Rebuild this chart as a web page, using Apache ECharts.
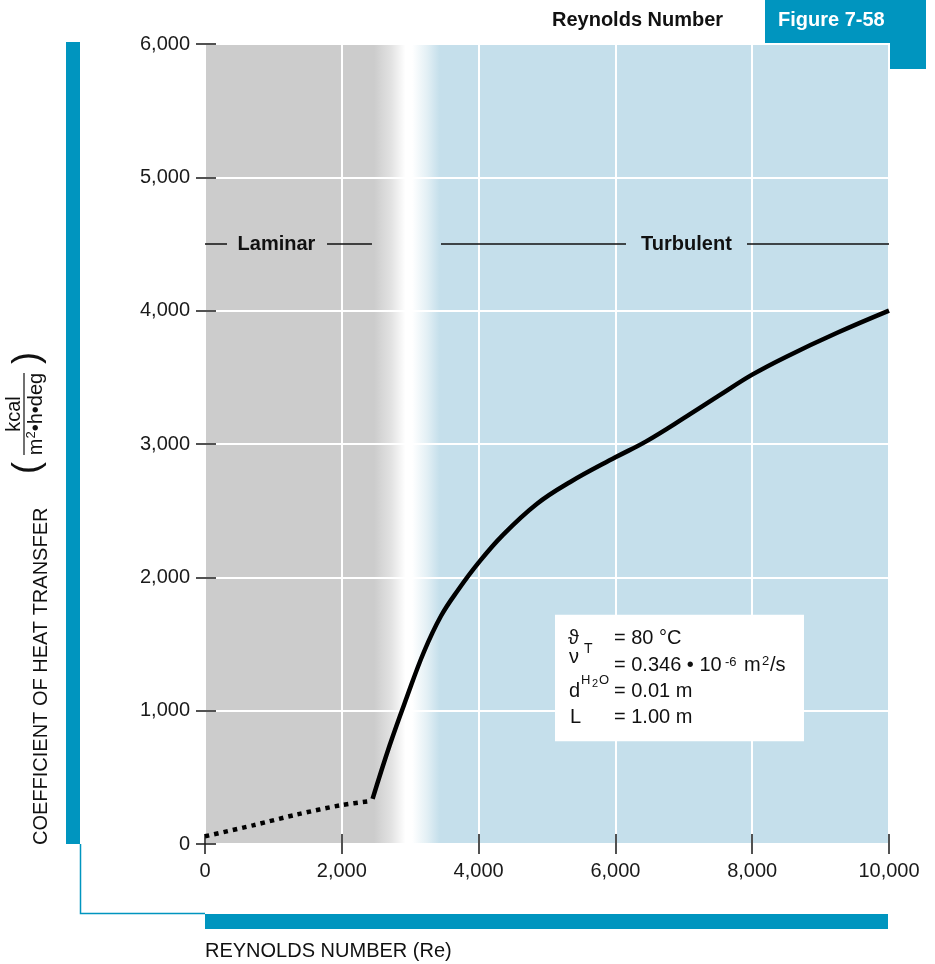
<!DOCTYPE html>
<html>
<head>
<meta charset="utf-8">
<script src="https://cdn.jsdelivr.net/npm/echarts@6/dist/echarts.min.js"></script>
<style>
  html, body { margin: 0; padding: 0; background: #fff; }
  #chart { width: 935px; height: 964px; }
</style>
</head>
<body>
<div id="chart"></div>
<script>
// values
const xTicks = [0, 2000, 4000, 6000, 8000, 10000];
const yTicks = [0, 1000, 2000, 3000, 4000, 5000, 6000];

// laminar part (dotted)
const laminarRe = [0, 700, 1350, 2000, 2420];
const laminarH = [58, 140, 222, 292, 322];

// turbulent part (solid)
const turbRe = [2450, 2700, 2950, 3200, 3450, 3700, 4000, 4350, 4850, 5340, 6000, 6450, 7040, 7530, 8000, 8500, 9235, 10000];
const turbH = [338, 740, 1100, 1440, 1710, 1905, 2110, 2315, 2550, 2715, 2900, 3020, 3207, 3368, 3520, 3655, 3832, 4000];

// region labels
const regionLevel = 4500;
const laminarSegs = [[0, 322], [1784, 2441]];
const turbSegs = [[3450, 6155], [7924, 10000]];
const regionLabels = [
  { name: "Laminar", re: 1045 },
  { name: "Turbulent", re: 7039 }
];

// box with the test conditions
const boxRe = [5117, 8757];
const boxH = [770, 1720];

const FONT = "'Liberation Sans', Arial, sans-serif";
const TEAL = "#0095bf";
const GREY = "#cccccc";
const BLUE = "#c5dfeb";

const toPairs = (xs, ys) => xs.map((x, i) => [x, ys[i]]);
const fmt = (v) => v.toLocaleString("en-US");

const chart = echarts.init(document.getElementById("chart"));

const tickStyle = { color: "#1a1a1a", width: 1.5 };

const baseX = { type: "value", min: 0, max: 10000, interval: 2000, axisLine: { show: false } };
const baseY = { type: "value", min: 0, max: 6000, interval: 1000, axisLine: { show: false } };

const segLines = laminarSegs.concat(turbSegs).map(([a, b]) => [
  { coord: [a, regionLevel] },
  { coord: [b, regionLevel] }
]);

// text placed by its baseline
const txt = (x, base, text, size, extra) => ({
  type: "text",
  z: 100,
  x,
  y: base - 0.36 * size,
  style: Object.assign(
    { text, fontSize: size, fontFamily: FONT, fill: "#111", verticalAlign: "middle", align: "left" },
    extra || {}
  )
});

const rtxt = (u, v, text, size, extra) => ({
  type: "text",
  x: u,
  y: v,
  style: Object.assign(
    { text, fontSize: size, fontFamily: FONT, fill: "#111", align: "center", verticalAlign: "middle" },
    extra || {}
  )
});

chart.setOption({
  animation: false,
  grid: {
    left: 205,
    top: 44,
    width: 684,
    height: 800,
    show: true,
    borderWidth: 0,
    backgroundColor: new echarts.graphic.LinearGradient(0, 0, 1, 0, [
      { offset: 0, color: GREY },
      { offset: 0.247, color: GREY },
      { offset: 0.272, color: "#e2e2e2" },
      { offset: 0.293, color: "#ffffff" },
      { offset: 0.303, color: "#ffffff" },
      { offset: 0.324, color: "#e4f0f5" },
      { offset: 0.343, color: BLUE },
      { offset: 1, color: BLUE }
    ])
  },
  xAxis: [
    Object.assign({}, baseX, {
      axisTick: { show: true, inside: false, length: 10, lineStyle: tickStyle },
      splitLine: { show: true, lineStyle: { color: "#ffffff", width: 2 } },
      axisLabel: { margin: 17, color: "#1a1a1a", fontFamily: FONT, fontSize: 20, formatter: fmt }
    }),
    Object.assign({}, baseX, {
      position: "bottom",
      axisTick: { show: true, inside: true, length: 10, lineStyle: tickStyle },
      splitLine: { show: false },
      axisLabel: { show: false }
    })
  ],
  yAxis: [
    Object.assign({}, baseY, {
      axisTick: { show: true, inside: false, length: 9, lineStyle: tickStyle },
      splitLine: { show: true, lineStyle: { color: "#ffffff", width: 2 } },
      axisLabel: { margin: 15, color: "#1a1a1a", fontFamily: FONT, fontSize: 20, formatter: fmt }
    }),
    Object.assign({}, baseY, {
      position: "left",
      axisTick: { show: true, inside: true, length: 11, lineStyle: tickStyle },
      splitLine: { show: false },
      axisLabel: { show: false }
    })
  ],
  series: [
    {
      name: "laminar",
      type: "line",
      data: toPairs(laminarRe, laminarH),
      showSymbol: false,
      smooth: 0.3,
      lineStyle: { color: "#000", width: 4.5, type: [4.5, 5], cap: "butt" },
      markLine: {
        silent: true,
        symbol: "none",
        label: { show: false },
        lineStyle: { color: "#111", width: 1.5, type: "solid" },
        data: segLines
      },
      markPoint: {
        silent: true,
        symbol: "rect",
        symbolSize: 1,
        itemStyle: { color: "rgba(0,0,0,0)" },
        label: {
          show: true,
          position: "inside",
          color: "#111",
          fontFamily: FONT,
          fontWeight: "bold",
          fontSize: 20,
          formatter: (p) => p.name
        },
        data: regionLabels.map((r) => ({ name: r.name, coord: [r.re, regionLevel] }))
      }
    },
    {
      name: "turbulent",
      type: "line",
      data: toPairs(turbRe, turbH),
      showSymbol: false,
      smooth: 0.4,
      lineStyle: { color: "#000", width: 4.5 },
      markArea: {
        silent: true,
        itemStyle: { color: "#ffffff" },
        data: [[{ coord: [boxRe[0], boxH[1]] }, { coord: [boxRe[1], boxH[0]] }]]
      }
    }
  ],
  graphic: [
    // decorative frame
    { type: "rect", shape: { x: 66, y: 42, width: 14, height: 802 }, style: { fill: TEAL } },
    { type: "rect", shape: { x: 205, y: 914, width: 683, height: 15 }, style: { fill: TEAL } },
    {
      type: "polyline",
      shape: { points: [[80.5, 844], [80.5, 913.5], [205, 913.5]] },
      style: { stroke: TEAL, lineWidth: 1.5, fill: null }
    },
    { type: "rect", shape: { x: 765, y: 0, width: 161, height: 43 }, style: { fill: TEAL } },
    { type: "rect", shape: { x: 890, y: 0, width: 36, height: 69 }, style: { fill: TEAL } },
    // header
    txt(552, 28, "Reynolds Number", 20, { fontWeight: "bold" }),
    txt(778, 28, "Figure 7-58", 20, { fontWeight: "bold", fill: "#ffffff" }),
    // x axis name
    txt(205, 959, "REYNOLDS NUMBER (Re)", 20),
    // y axis name, rotated to read upwards; local x runs up, local y runs right
    {
      type: "group",
      x: 0,
      y: 845,
      rotation: Math.PI / 2,
      children: [
        rtxt(0, 41, "COEFFICIENT OF HEAT TRANSFER", 20, { align: "left" }),
        rtxt(431, 14, "kcal", 20),
        { type: "line", shape: { x1: 390, y1: 24, x2: 472, y2: 24 }, style: { stroke: "#111", lineWidth: 1.2 } },
        {
          type: "text",
          x: 431,
          y: 36,
          style: {
            text: "{n|m}{s|2}{n|•h•deg}",
            align: "center",
            verticalAlign: "middle",
            rich: {
              n: { fontFamily: FONT, fontSize: 20, lineHeight: 22, fill: "#111" },
              s: { fontFamily: FONT, fontSize: 13, lineHeight: 22, verticalAlign: "top", fill: "#111" }
            }
          }
        },
        rtxt(377, 28, "(", 36),
        rtxt(487, 28, ")", 36)
      ]
    },
    // test conditions text
    txt(568, 646, "ϑ", 20),
    txt(584, 654, "T", 14),
    txt(614, 646, "= 80 °C", 20),
    txt(569, 665, "ν", 20),
    txt(581, 685, "H", 13),
    txt(592, 688, "2", 11),
    txt(599, 685, "O", 13),
    txt(614, 673, "= 0.346 • 10", 20),
    txt(725, 667, "-6", 13),
    txt(744, 673, "m", 20),
    txt(762, 666, "2", 13),
    txt(770, 673, "/s", 20),
    txt(569, 699, "d", 20),
    txt(614, 699, "= 0.01 m", 20),
    txt(570, 725, "L", 20),
    txt(614, 725, "= 1.00 m", 20)
  ]
});
</script>
</body>
</html>
